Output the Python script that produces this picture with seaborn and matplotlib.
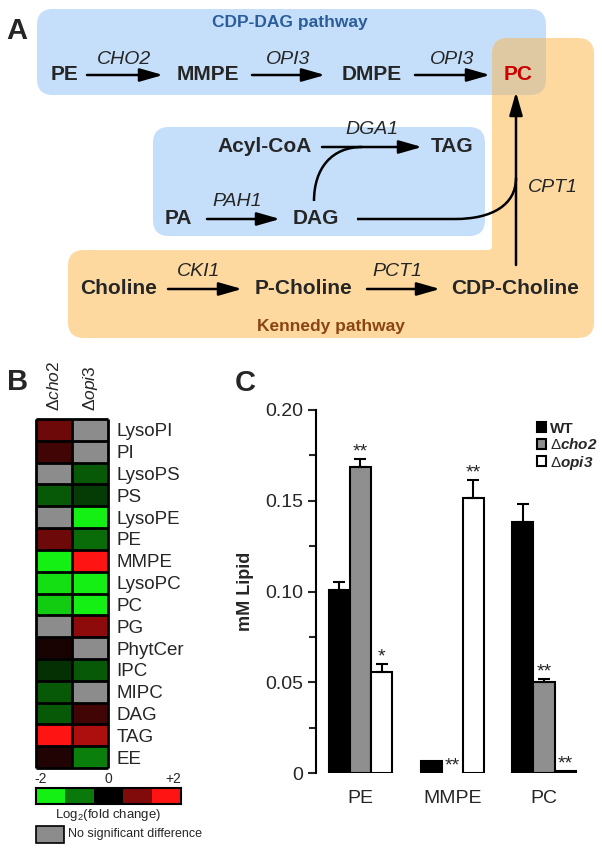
import numpy as np
import pandas as pd
import matplotlib.pyplot as plt
import seaborn as sns
from matplotlib.colors import LinearSegmentedColormap
from matplotlib.patches import PathPatch, Rectangle
from matplotlib.path import Path

# heatmap data (log2 fold change, nan = no significant difference)
lipids = ["LysoPI", "PI", "LysoPS", "PS", "LysoPE", "PE", "MMPE", "LysoPC",
          "PC", "PG", "PhytCer", "IPC", "MIPC", "DAG", "TAG", "EE"]
nan = np.nan
cho2_log2fc = [0.85, 0.5, nan, -0.75, nan, 0.85, -2.0, -1.85,
               -1.7, nan, 0.2, -0.4, -0.75, -0.75, 2.0, 0.25]
opi3_log2fc = [nan, nan, -0.75, -0.5, -2.0, -0.9, 2.0, -2.0,
               -2.0, 1.1, nan, -0.75, nan, 0.5, 1.35, -1.05]
scale_values = [-2, -1, 0, 1, 2]

# bar chart data (mM lipid)
lipid_classes = ["PE", "MMPE", "PC"]
strains = ["WT", "cho2", "opi3"]
wt_mM = [0.101, 0.0065, 0.1385]
cho2_mM = [0.1685, 0.0, 0.0500]
opi3_mM = [0.0555, 0.1515, 0.0010]
wt_sem = [0.0042, 0.0, 0.0095]
cho2_sem = [0.0043, 0.0, 0.0017]
opi3_sem = [0.0045, 0.0098, 0.0]
wt_sig = ["", "", ""]
cho2_sig = ["**", "**", "**"]
opi3_sig = ["*", "**", "**"]

W, H = 602, 851

sns.set_style("white")
plt.rcParams["font.family"] = ["Liberation Sans", "DejaVu Sans"]
plt.rcParams["mathtext.fontset"] = "custom"
plt.rcParams["mathtext.rm"] = "Liberation Sans"
plt.rcParams["mathtext.it"] = "Liberation Sans:italic"
plt.rcParams["mathtext.bf"] = "Liberation Sans:bold"
plt.rcParams["mathtext.bfit"] = "Liberation Sans:italic:bold"


def box(x0, y0, x1, y1):
    # pixel box (top-left origin) -> figure fraction rect
    return [x0 / W, 1 - y1 / H, (x1 - x0) / W, (y1 - y0) / H]


def rounded_path(pts, radii):
    verts, codes = [], []
    n = len(pts)
    for i in range(n):
        p = np.array(pts[i - 1], float)
        v = np.array(pts[i], float)
        q = np.array(pts[(i + 1) % n], float)
        r = radii[i]
        a = v + r * (p - v) / np.linalg.norm(p - v)
        b = v + r * (q - v) / np.linalg.norm(q - v)
        verts.append(a)
        codes.append(Path.MOVETO if i == 0 else Path.LINETO)
        verts += [v, b]
        codes += [Path.CURVE3, Path.CURVE3]
    verts.append(verts[0])
    codes.append(Path.CLOSEPOLY)
    return Path(verts, codes)


fig = plt.figure(figsize=(W / 100, H / 100), dpi=100)

# ---------- panel A: pathway diagram (pixel coordinates) ----------
ax0 = fig.add_axes([0, 0, 1, 1])
ax0.set_xlim(0, W)
ax0.set_ylim(H, 0)
ax0.axis("off")

blue, orange, overlap = "#c5dffa", "#fdd9a0", "#dec9a2"
ax0.add_patch(PathPatch(rounded_path([(37, 9), (546, 9), (546, 95), (37, 95)], [16] * 4),
                        fc=blue, ec="none"))
ax0.add_patch(PathPatch(rounded_path([(153, 127), (485, 127), (485, 236), (153, 236)], [16] * 4),
                        fc=blue, ec="none"))
ax0.add_patch(PathPatch(rounded_path([(492, 38), (594, 38), (594, 338), (68, 338), (68, 250), (492, 250)],
                                     [16, 16, 16, 16, 16, 4]), fc=orange, ec="none"))
ax0.add_patch(PathPatch(rounded_path([(492, 38), (546, 38), (546, 95), (492, 95)], [16, 0, 16, 0]),
                        fc=overlap, ec="none"))

metabolites = [(65, 75, "PE"), (208, 75, "MMPE"), (372, 75, "DMPE"),
               (265, 147, "Acyl-CoA"), (452, 147, "TAG"), (178, 219, "PA"),
               (316, 219, "DAG"), (119, 288, "Choline"), (303, 288, "P-Choline"),
               (515, 288, "CDP-Choline")]
for x, y, s in metabolites:
    ax0.text(x, y, s, ha="center", va="center", fontsize=15, fontweight="bold")
ax0.text(518, 75, "PC", ha="center", va="center", fontsize=15, fontweight="bold", color="#cc0000")

genes = [(124, 59, "CHO2"), (288, 59, "OPI3"), (452, 59, "OPI3"), (372, 130, "DGA1"),
         (237, 201, "PAH1"), (553, 188, "CPT1"), (199, 271, "CKI1"), (397, 271, "PCT1")]
for x, y, s in genes:
    ax0.text(x, y, s, ha="center", va="center", fontsize=14, style="italic")

arrow_kw = dict(arrowstyle="-|>,head_length=1.4,head_width=0.4", lw=1.8, color="k",
                shrinkA=0, shrinkB=0, mutation_scale=10)
for x0, x1, y in [(87, 163, 75), (252, 325, 75), (415, 490, 75), (322, 422, 147),
                  (207, 280, 219), (168, 242, 289), (367, 440, 289)]:
    ax0.annotate("", xy=(x1, y), xytext=(x0, y), arrowprops=arrow_kw)
ax0.annotate("", xy=(516, 92), xytext=(516, 265), arrowprops=arrow_kw)

curve1 = Path([(357, 219), (455, 219), (492, 219), (516, 205), (516, 178)],
              [Path.MOVETO, Path.LINETO, Path.CURVE4, Path.CURVE4, Path.CURVE4])
curve2 = Path([(314, 201), (314, 168), (332, 147), (362, 147)],
              [Path.MOVETO, Path.CURVE4, Path.CURVE4, Path.CURVE4])
for c in (curve1, curve2):
    ax0.add_patch(PathPatch(c, fc="none", ec="k", lw=1.8))

ax0.text(290, 22, "CDP-DAG pathway", ha="center", va="center", fontsize=12.5,
         fontweight="bold", color="#2b5d9b")
ax0.text(331, 327, "Kennedy pathway", ha="center", va="center", fontsize=12.5,
         fontweight="bold", color="#8b4513")

for x, y, s in [(17, 31, "A"), (18, 382, "B"), (245, 383, "C")]:
    ax0.text(x, y, s, ha="center", va="center", fontsize=21, fontweight="bold")

# ---------- panel B: heatmap ----------
cmap = LinearSegmentedColormap.from_list("gkr", ["#14f014", "#000000", "#ff1414"])
heat = pd.DataFrame({"cho2": cho2_log2fc, "opi3": opi3_log2fc}, index=lipids)

axh = fig.add_axes(box(36, 419, 108, 768))
sns.heatmap(heat, ax=axh, cmap=cmap, vmin=-2, vmax=2, cbar=False)
axh.set_facecolor("#8c8c8c")
axh.hlines(np.arange(len(lipids) + 1), 0, 2, colors="k", lw=2, clip_on=False)
axh.vlines(np.arange(3), 0, len(lipids), colors="k", lw=2, clip_on=False)
axh.xaxis.tick_top()
axh.set_xticklabels([r"$\Delta\mathit{cho2}$", r"$\Delta\mathit{opi3}$"], rotation=90, fontsize=12.5)
axh.yaxis.tick_right()
axh.set_yticklabels(lipids, rotation=0, fontsize=13.5)
axh.tick_params(length=0, pad=6)
axh.set_xlabel("")
axh.set_ylabel("")

axc = fig.add_axes(box(36, 788, 181, 804))
sns.heatmap([scale_values], ax=axc, cmap=cmap, vmin=-2, vmax=2, cbar=False,
            xticklabels=False, yticklabels=False)
for sp in axc.spines.values():
    sp.set_visible(True)
    sp.set_linewidth(1.5)
    sp.set_color("k")
for xf, s in [(0.03, "-2"), (0.5, "0"), (0.95, "+2")]:
    axc.text(xf, 1.15, s, transform=axc.transAxes, ha="center", va="bottom", fontsize=10)
ax0.text(108, 815, "Log$_2$(fold change)", ha="center", va="center", fontsize=9.5)
ax0.add_patch(Rectangle((36, 826), 28, 17, fc="#8c8c8c", ec="k", lw=1.2))
ax0.text(68, 834, "No significant difference", ha="left", va="center", fontsize=9)

# ---------- panel C: bar chart ----------
rows = []
for vals, strain in zip([wt_mM, cho2_mM, opi3_mM], strains):
    for lc, v in zip(lipid_classes, vals):
        rows.append({"lipid": lc, "strain": strain, "mM": v})
bars = pd.DataFrame(rows)

axb = fig.add_axes(box(316, 410, 594, 773))
sns.barplot(data=bars, x="lipid", y="mM", hue="strain", ax=axb,
            palette=["#000000", "#8f8f8f", "#ffffff"], saturation=1,
            edgecolor="k", linewidth=1.5, width=0.69, errorbar=None)

for cont, sems, sigs in zip(axb.containers, [wt_sem, cho2_sem, opi3_sem],
                            [wt_sig, cho2_sig, opi3_sig]):
    for bar, e, s in zip(cont, sems, sigs):
        x = bar.get_x() + bar.get_width() / 2
        top = bar.get_height()
        if top == 0:
            bar.set_linewidth(0)
        if e > 0:
            axb.errorbar(x, top, yerr=[[0], [e]], color="k", capsize=4,
                         elinewidth=1.5, capthick=1.5)
        if s:
            axb.text(x, top + e - 0.0008, s, ha="center", va="bottom", fontsize=14)

axb.set_xlim(-0.485, 2.545)
axb.set_ylim(0, 0.2)
axb.set_yticks([0, 0.05, 0.10, 0.15, 0.20])
axb.set_yticklabels(["0", "0.05", "0.10", "0.15", "0.20"], fontsize=14)
axb.set_yticks([0.025, 0.075, 0.125, 0.175], minor=True)
axb.tick_params(axis="y", which="major", direction="out", length=6, width=1.5, left=True)
axb.tick_params(axis="y", which="minor", direction="out", length=5, width=1.5, left=True)
axb.tick_params(axis="x", length=0, pad=12, labelsize=14)
sns.despine(ax=axb, bottom=True)
axb.spines["left"].set_linewidth(1.5)
axb.spines["left"].set_color("k")
axb.set_xlabel("")
axb.set_ylabel("mM Lipid", fontsize=13, fontweight="bold", labelpad=8)

handles, _ = axb.get_legend_handles_labels()
axb.legend(handles, ["WT", r"$\Delta\mathbfit{cho2}$", r"$\Delta\mathbfit{opi3}$"],
           loc="upper left", bbox_to_anchor=(529 / W, 1 - 414 / H),
           bbox_transform=fig.transFigure, frameon=False,
           prop={"weight": "bold", "size": 11}, handlelength=0.6, handleheight=0.6,
           handletextpad=0.3, labelspacing=0.1, borderpad=0)

fig.savefig("out.png", dpi=100)
